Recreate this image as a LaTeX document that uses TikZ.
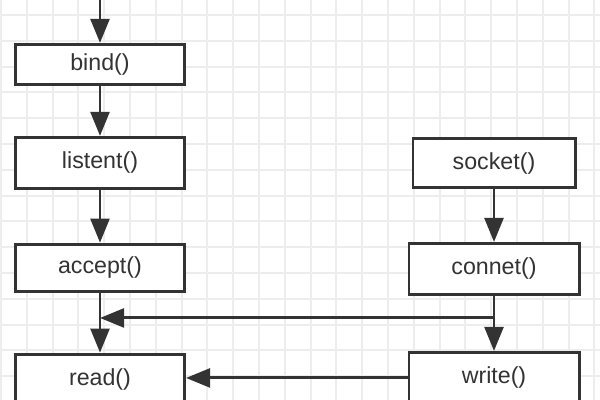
\documentclass[tikz,border=0pt]{standalone}
\usepackage{fontspec}
\setmainfont{Liberation Sans}
\usepackage{xcolor}
\usetikzlibrary{arrows.meta,positioning}

\definecolor{inkgray}{HTML}{333333}
\definecolor{gridgray}{HTML}{EDEDED}

\begin{document}
\begin{tikzpicture}[
    x=0.025cm, y=-0.025cm,
    node distance=1.25cm,
    call/.style={rectangle, draw=inkgray, fill=white, line width=2.1pt, minimum width=4.225cm, minimum height=1.275cm, text=inkgray, font=\fontsize{16.5}{19}\selectfont, inner sep=0pt},
    arrow/.style={-{Triangle[length=0.6cm, width=0.47cm]}, draw=inkgray, line width=2.1pt},
    gridline/.style={draw=gridgray, line width=1.3pt}
]
    \useasboundingbox (0,0) rectangle (600,400);
    \clip (0,0) rectangle (600,400);
    \fill[white] (0,0) rectangle (600,400);

    % Grid
    \foreach \gx in {1,26.8,...,600} \draw[gridline] (\gx,0) -- (\gx,400);
    \foreach \gy in {15,40.8,...,400} \draw[gridline] (0,\gy) -- (600,\gy);

    % Server side
    \node[call, minimum height=1.0cm] (bind) at (100,64.4) {bind()};
    \node[call, below=of bind] (listent) {listent()};
    \node[call, minimum height=1.175cm, below=1.32cm of listent] (accept) {accept()};
    \node[call, below=1.5cm of accept] (read) {read()};

    % Client side
    \node[call, minimum width=4.05cm, minimum height=1.225cm] (socket) at (494,163) {socket()};
    \node[call, minimum width=4.25cm, below=1.325cm of socket] (connet) {connet()};
    \node[call, minimum width=4.25cm, below=1.375cm of connet] (write) {write()};

    % Arrows
    \coordinate (entry) at (100,-10);
    \draw[arrow] (entry) -- (bind.north);
    \draw[arrow] (bind) -- (listent);
    \draw[arrow] (listent) -- (accept);
    \draw[arrow] (accept) -- (read);
    \draw[arrow] (socket) -- (connet);
    \draw[arrow] (connet) -- (write);
    \coordinate (split) at ([yshift=-0.55cm]connet.south);
    \draw[arrow] (split) -- (split -| accept.south);
    \draw[arrow] (write.west) -- (write.west -| read.east);
\end{tikzpicture}
\end{document}
